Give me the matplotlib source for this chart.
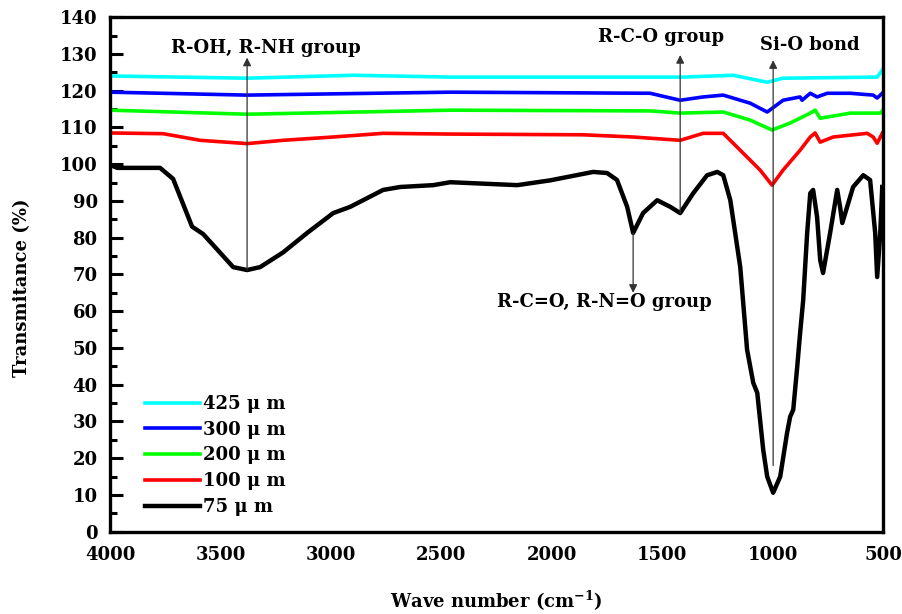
import matplotlib
matplotlib.use("Agg")
import matplotlib.pyplot as plt
from matplotlib.ticker import MultipleLocator

plt.rcParams["font.family"] = ["DejaVu Serif"]
plt.rcParams["font.weight"] = "bold"
plt.rcParams["mathtext.fontset"] = "custom"
plt.rcParams["mathtext.bf"] = "DejaVu Serif:bold"
plt.rcParams["mathtext.rm"] = "DejaVu Serif:bold"
plt.rcParams["mathtext.default"] = "bf"

# --- FTIR spectra (wavenumber cm-1, transmittance %) ---
black_wn = [4000, 3968, 3900, 3774, 3715, 3629, 3579, 3443, 3380, 3321, 3217, 3108,
            2990, 2913, 2764, 2687, 2537, 2460, 2157, 2008, 1813, 1750, 1705, 1659,
            1632, 1587, 1523, 1464, 1419, 1360, 1297, 1251, 1224, 1192, 1147, 1116,
            1088, 1070, 1043, 1025, 998, 966, 935, 921, 907, 889, 876, 862, 844, 830,
            817, 799, 785, 772, 740, 708, 695, 685, 663, 636, 590, 559, 536, 527, 513, 504]
black_t = [99.8, 99, 99, 99, 96, 83, 81, 72, 71.2, 72, 76, 81.3,
           86.7, 88.4, 93, 93.8, 94.3, 95.1, 94.3, 95.6, 97.9, 97.6, 95.7, 88.4,
           81.3, 86.7, 90.2, 88.4, 86.7, 92.1, 97, 97.9, 97, 90.2, 72, 49.5,
           40.5, 37.8, 22.3, 15, 10.6, 15, 26.9, 31.3, 33.2, 44.9, 54, 63, 81.3, 92.1,
           93, 85.6, 73.9, 70.4, 81.3, 93, 88.4, 84, 88.4, 93.8, 97, 95.7, 81.3, 69.3, 81.3, 93.8]

red_wn = [4000, 3760, 3592, 3380, 3217, 2990, 2764, 2460, 1858, 1632, 1419, 1315, 1224,
          1147, 1057, 1003, 953, 876, 830, 808, 785, 726, 572, 545, 527, 504]
red_t = [108.5, 108.3, 106.5, 105.6, 106.5, 107.4, 108.4, 108.2, 108, 107.4, 106.5, 108.4, 108.4,
         103.8, 98.4, 94.3, 98.4, 103.8, 107.4, 108.5, 106, 107.4, 108.4, 107.4, 105.7, 108.4]

green_wn = [4000, 3380, 2460, 1555, 1419, 1224, 1102, 1003, 921, 830, 808, 785, 649, 513, 504]
green_t = [114.7, 113.6, 114.7, 114.5, 113.9, 114.2, 112, 109.3, 111.2, 113.9, 114.7, 112.5,
           113.9, 113.9, 114.5]

blue_wn = [4000, 3380, 2460, 1555, 1419, 1315, 1224, 1102, 1025, 953, 876, 867, 830, 799,
           753, 649, 545, 527, 504]
blue_t = [119.6, 118.8, 119.6, 119.3, 117.4, 118.3, 118.8, 116.6, 114.2, 117.4, 118.3, 117.4,
          119.3, 118.3, 119.3, 119.3, 118.8, 118, 119.3]

cyan_wn = [4000, 3380, 2900, 2460, 1405, 1179, 1025, 953, 527, 504]
cyan_t = [124, 123.4, 124.2, 123.7, 123.7, 124.2, 122.3, 123.4, 123.7, 125.6]

fig = plt.figure(figsize=(9.03, 6.14), dpi=100)
ax = fig.add_axes([0.122, 0.134, 0.856, 0.838])

ax.plot(cyan_wn, cyan_t, color="#00FFFF", lw=2.6, label="425 μ m")
ax.plot(blue_wn, blue_t, color="#0000FF", lw=2.6, label="300 μ m")
ax.plot(green_wn, green_t, color="#00FF00", lw=2.6, label="200 μ m")
ax.plot(red_wn, red_t, color="#FF0000", lw=2.6, label="100 μ m")
ax.plot(black_wn, black_t, color="black", lw=3.2, label="75 μ m", solid_joinstyle="round")

# --- band annotations ---
arrow = dict(arrowstyle="-|>", color="#333333", lw=0.9, mutation_scale=12, shrinkA=0, shrinkB=0)
ax.annotate("", xy=(3380, 129), xytext=(3380, 71.2), arrowprops=arrow)
ax.annotate("", xy=(1419, 129.7), xytext=(1419, 86.7), arrowprops=arrow)
ax.annotate("", xy=(998, 128.3), xytext=(998, 18), arrowprops=arrow)
ax.annotate("", xy=(1632, 65), xytext=(1632, 81.3), arrowprops=arrow)

ax.text(3294, 131.5, "R-OH, R-NH group", ha="center", va="center", fontsize=13, fontweight="bold")
ax.text(1505, 134.5, "R-C-O group", ha="center", va="center", fontsize=13, fontweight="bold")
ax.text(830, 132.4, "Si-O bond", ha="center", va="center", fontsize=13, fontweight="bold")
ax.text(1763, 62.5, "R-C=O, R-N=O group", ha="center", va="center", fontsize=13, fontweight="bold")

ax.set_xlim(4000, 500)
ax.set_ylim(0, 140)
ax.xaxis.set_major_locator(MultipleLocator(500))
ax.yaxis.set_major_locator(MultipleLocator(10))
ax.yaxis.set_minor_locator(MultipleLocator(5))
ax.tick_params(axis="y", which="major", direction="in", length=9, width=2.2, labelsize=13, pad=9)
ax.tick_params(axis="y", which="minor", direction="in", length=5, width=2.2)
ax.tick_params(axis="x", which="both", length=0, labelsize=13, pad=10)
for lbl in ax.get_xticklabels() + ax.get_yticklabels():
    lbl.set_fontweight("bold")
for sp in ax.spines.values():
    sp.set_linewidth(2.4)

ax.set_xlabel("Wave number (cm$^{-1}$)", fontsize=13, fontweight="bold", labelpad=18)
ax.set_ylabel("Transmitance (%)", fontsize=13, fontweight="bold")
ax.yaxis.set_label_coords(-0.102, 0.474)

ax.legend(loc="upper left", bbox_to_anchor=(0.045, 0.266), frameon=False, fontsize=13,
          handlelength=3.05, handletextpad=0.17, labelspacing=0.43, borderaxespad=0, borderpad=0)

fig.savefig("out.png", dpi=100)
